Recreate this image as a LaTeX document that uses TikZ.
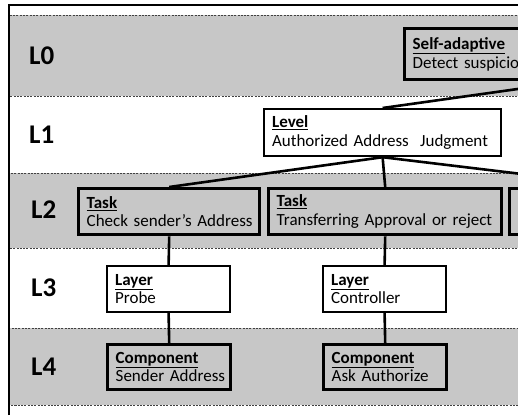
\documentclass[tikz,border=0pt]{standalone}
\usepackage{fontspec}
\setmainfont{Carlito}

\begin{document}
\begin{tikzpicture}[x=1pt,y=-1pt,
  band/.style={fill=black!22, draw=black!75, dash pattern=on 2pt off 1.3pt, line width=0.8pt},
  lvl/.style={font=\bfseries\fontsize{27}{27}\selectfont, anchor=west, inner sep=0pt},
  box/.style={rectangle, anchor=north west, align=left, inner xsep=8pt, inner ysep=2pt,
    font=\fontsize{17}{18.5}\selectfont},
  darkbox/.style={box, draw=black, line width=3.4pt, fill=black!22},
  lightbox/.style={box, draw=black, line width=2.2pt, fill=white},
  link/.style={draw=black, line width=2.6pt},
  frame/.style={draw=black, line width=1.4pt}
]
\useasboundingbox (0,0) rectangle (518,415);
\clip (0,0) rectangle (518,415);

% horizontal level bands
\path[band] (9,15)  rectangle (530,96);
\path[band] (9,173) rectangle (530,248);
\path[band] (9,328) rectangle (530,405);

% outer frame
\draw[frame] (9,415) -- (9,5) -- (530,5);

% level labels
\node[lvl] (l0) at (29,56)  {L0};
\node[lvl] (l1) at (29,135) {L1};
\node[lvl] (l2) at (31,210) {L2};
\node[lvl] (l3) at (31,288) {L3};
\node[lvl] (l4) at (31,367) {L4};

% nodes
\node[darkbox, minimum width=334, minimum height=51, text width=318] (sa) at (403,27)
  {\underline{\textbf{Self-adaptive}}\\\mbox{Detect suspicious}};
\node[lightbox, minimum width=237, minimum height=47, text width=221] (lev) at (263,108)
  {\underline{\textbf{Level}}\\\mbox{Authorized Address\ \ Judgment}};

\node[darkbox, minimum width=181, minimum height=46, text width=165] (t1) at (77,187)
  {\underline{\textbf{Task}}\\\mbox{Check sender’s Address}};
\node[darkbox, minimum width=233, minimum height=46, text width=217] (t2) at (267,187)
  {\underline{\textbf{Task}}\\\mbox{Transferring Approval or reject}};
\node[darkbox, minimum width=240, minimum height=46, text width=224] (t3) at (508,187) {};

\node[lightbox, minimum width=123, minimum height=46, text width=107] (p) at (106,265)
  {\underline{\textbf{Layer}}\\Probe};
\node[lightbox, minimum width=123, minimum height=46, text width=107] (c) at (322,265)
  {\underline{\textbf{Layer}}\\Controller};

\node[darkbox, minimum width=123, minimum height=45, text width=107] (ca) at (106,343)
  {\underline{\textbf{Component}}\\\mbox{Sender Address}};
\node[darkbox, minimum width=123, minimum height=45, text width=107] (cb) at (322,343)
  {\underline{\textbf{Component}}\\\mbox{Ask Authorize}};

% connectors
\draw[link] (sa.south) -- (lev.north);
\draw[link] (lev.south) -- (t1.north);
\draw[link] (lev.south) -- (t2.north);
\draw[link] (lev.south) -- (t3.north);
\draw[link] (t1.south) -- (p.north);
\draw[link] (t2.south) -- (c.north);
\draw[link] (p.south) -- (ca.north);
\draw[link] (c.south) -- (cb.north);
\end{tikzpicture}
\end{document}
